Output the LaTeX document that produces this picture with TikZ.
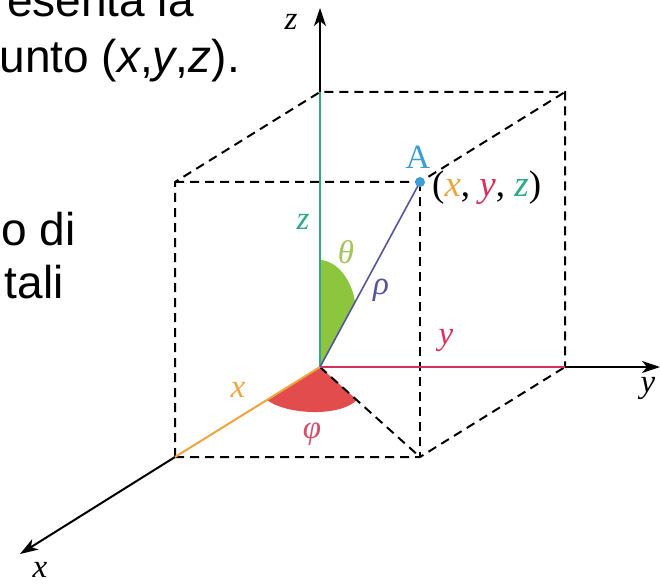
\documentclass[tikz,border=0pt]{standalone}
\usepackage{fontspec}
\setmainfont{Liberation Sans}
\newfontfamily\tms{Liberation Serif}
\usetikzlibrary{arrows.meta}
\definecolor{zcol}{HTML}{2FA88C}
\definecolor{xcol}{HTML}{EFA53F}
\definecolor{ycol}{HTML}{D8305C}
\definecolor{thcol}{HTML}{8CC63F}
\definecolor{thlab}{HTML}{A3C45A}
\definecolor{phcol}{HTML}{E24C4C}
\definecolor{phlab}{HTML}{D4506A}
\definecolor{rhocol}{HTML}{55559F}
\definecolor{acol}{HTML}{3A9ED4}
\tikzset{
  boxline/.style={black, line width=2pt, dash pattern=on 9pt off 6pt},
  axisline/.style={black, line width=2pt},
  axisarrow/.style={axisline, -{Stealth[length=18pt,width=12pt,inset=5pt]}},
  bigtext/.style={font=\fontsize{46}{55}\selectfont, inner sep=0pt, anchor=base east},
  lab/.style={font=\fontsize{33}{40}\selectfont\tms\itshape, inner sep=0pt},
  ulab/.style={font=\fontsize{34}{40}\selectfont\tms, inner sep=0pt}
}
\begin{document}
\begin{tikzpicture}[x=1pt,y=-1pt]
\useasboundingbox (0,0) rectangle (660,585);
\clip (0,0) rectangle (660,585);
% texts at left
\node[bigtext] (t1) at (194,17) {esenta la};
\node[bigtext] (t2) at (240,73) {unto (\textit{x},\textit{y},\textit{z}).};
\node[bigtext] (t3) at (76,245) {o di};
\node[bigtext] (t4) at (64,298) {tali};
% points
\coordinate (O) at (320,367);
\coordinate (Px) at (175,457);
\coordinate (Py) at (565,367);
\coordinate (Pz) at (320,92);
\coordinate (P) at (420,457);
\coordinate (XZ) at (175,182);
\coordinate (YZ) at (565,92);
\coordinate (A) at (420,182);
\coordinate (Xend) at (20,554);
\coordinate (Yend) at (660,367);
\coordinate (Zend) at (320,8);
\coordinate (th1) at (320,260);
\coordinate (th2) at (355,302);
\coordinate (ph1) at (267,400);
\coordinate (ph2) at (357,400);
% wedges
\fill[thcol] (O) -- (th1) .. controls (338,261) and (352,281) .. (th2) -- cycle;
\fill[phcol] (O) -- (ph1) .. controls (285,414) and (338,418) .. (ph2) -- cycle;
% box
\draw[boxline] (Px) -- (P) -- (Py);
\draw[boxline] (Px) -- (XZ) -- (Pz) -- (YZ) -- (Py);
\draw[boxline] (XZ) -- (A) -- (YZ);
\draw[boxline] (A) -- (P);
\draw[boxline] (O) -- (P);
% axes
\draw[axisarrow] (Pz) -- (Zend);
\draw[axisarrow] (Py) -- (Yend);
\draw[axisarrow] (Px) -- (Xend);
\draw[zcol, line width=2pt] (O) -- (Pz);
\draw[ycol, line width=2pt] (O) -- (Py);
\draw[xcol, line width=2pt] (O) -- (Px);
\draw[rhocol, line width=1.6pt] (O) -- (A);
\fill[acol] (A) circle (5pt);
% labels
\node[lab] (zl) at (291,22) {z};
\node[lab] (yl) at (648,388) {y};
\node[lab] (xl) at (40,570) {x};
\node[ulab, text=acol] (Al) at (418,157) {A};
\node[ulab, anchor=west, font=\fontsize{37}{44}\selectfont\tms] (coords) at (432,188) {(\textcolor{xcol}{\itshape x}, \textcolor{ycol}{\itshape y}, \textcolor{zcol}{\itshape z})};
\node[lab, text=zcol] (zlab) at (303,222) {z};
\node[lab, text=thlab] (thl) at (346,252) {θ};
\node[lab, text=rhocol] (rhl) at (381,290) {ρ};
\node[lab, text=ycol] (ylab) at (446,340) {y};
\node[lab, text=xcol] (xlab) at (238,390) {x};
\node[lab, text=phlab] (phl) at (312,434) {φ};
\end{tikzpicture}
\end{document}
